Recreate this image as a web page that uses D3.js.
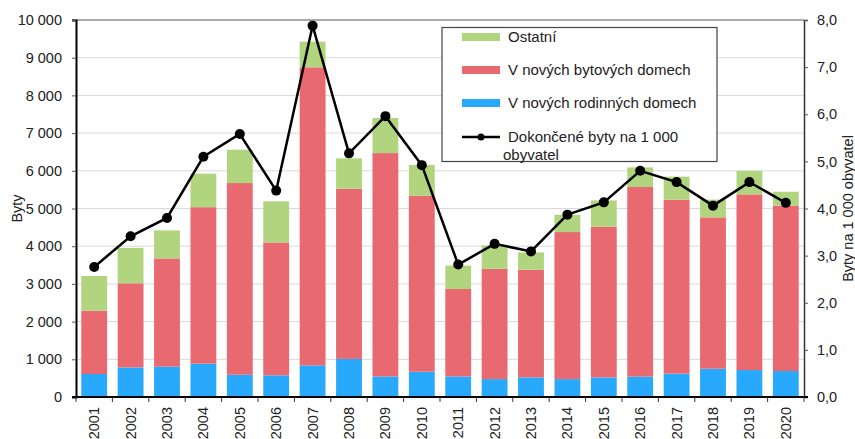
<!DOCTYPE html>
<html>
<head>
<meta charset="utf-8">
<script src="https://cdn.jsdelivr.net/npm/d3@7"></script>
<style>
  body { margin: 0; background: #fff; }
  svg { font-family: "Liberation Sans", Arial, sans-serif; }
</style>
</head>
<body>
<div id="container"></div>
<script>
const width = 855;
const height = 439;

const years = ['2001', '2002', '2003', '2004', '2005', '2006', '2007', '2008', '2009', '2010',
    '2011', '2012', '2013', '2014', '2015', '2016', '2017', '2018', '2019', '2020'];
// V nových rodinných domech
const family = [610, 785, 805, 885, 590, 575, 840, 1010, 545, 670, 545, 475, 520, 475, 520, 540, 620, 750, 715, 690];
// V nových bytových domech
const apartment = [1680, 2230, 2870, 4150, 5085, 3525, 7905, 4515, 5925, 4670, 2320, 2925, 2855, 3900, 3995, 5030, 4615, 4015, 4660, 4385];
// Ostatní
const other = [920, 940, 745, 890, 885, 1090, 680, 805, 930, 815, 620, 620, 460, 460, 700, 520, 610, 470, 620, 370];
// Dokončené byty na 1 000 obyvatel
const perThousand = [2.76, 3.41, 3.80, 5.10, 5.58, 4.38, 7.88, 5.17, 5.96, 4.92, 2.81, 3.25, 3.09, 3.87, 4.13, 4.80, 4.56, 4.06, 4.56, 4.12];

const leftTicks = [0, 1000, 2000, 3000, 4000, 5000, 6000, 7000, 8000, 9000, 10000];
const rightTicks = [0, 1, 2, 3, 4, 5, 6, 7, 8];

const keys = ['family', 'apartment', 'other'];
const colors = { family: '#29a9fb', apartment: '#e8696f', other: '#b1d57f' };

const legendItems = [
    { type: 'bar', key: 'other', label: ['Ostatní'] },
    { type: 'bar', key: 'apartment', label: ['V nových bytových domech'] },
    { type: 'bar', key: 'family', label: ['V nových rodinných domech'] },
    { type: 'line', label: ['Dokončené byty na 1 000', 'obyvatel'] }
];

const margin = { top: 20, right: 51, bottom: 42, left: 76 };
const x0 = margin.left, x1 = width - margin.right;
const y0 = height - margin.bottom, y1 = margin.top;
const FS = 14.5;

const rows = years.map((yr, i) => ({ year: yr, family: family[i], apartment: apartment[i], other: other[i], rate: perThousand[i] }));

const x = d3.scaleBand().domain(years).range([x0, x1]).paddingInner(0.29).paddingOuter(0.145);
const xBand = d3.scaleBand().domain(years).range([x0, x1]);
const y = d3.scaleLinear().domain([0, 10000]).range([y0, y1]);
const yR = d3.scaleLinear().domain([0, 8]).range([y0, y1]);

const fmtL = d => d3.format(',')(d).replace(/,/g, '\u00a0');
const fmtR = d => d3.format('.1f')(d).replace('.', ',');

const svg = d3.select('#container').append('svg')
    .attr('width', width)
    .attr('height', height);

// gridlines
svg.append('g')
    .selectAll('line')
    .data(leftTicks.slice(1, -1))
    .join('line')
    .attr('x1', x0).attr('x2', x1)
    .attr('y1', d => y(d)).attr('y2', d => y(d))
    .attr('stroke', '#d9d9d9')
    .attr('stroke-width', 1);

// top border
svg.append('line')
    .attr('x1', x0 - 4).attr('x2', x1)
    .attr('y1', y1).attr('y2', y1)
    .attr('stroke', '#555').attr('stroke-width', 1.2);

// stacked bars
const stack = d3.stack().keys(keys)(rows);
svg.append('g')
    .selectAll('g')
    .data(stack)
    .join('g')
    .attr('fill', d => colors[d.key])
    .selectAll('rect')
    .data(d => d)
    .join('rect')
    .attr('x', d => x(d.data.year))
    .attr('width', x.bandwidth())
    .attr('y', d => y(d[1]))
    .attr('height', d => y(d[0]) - y(d[1]));

// left axis
const gl = svg.append('g')
    .attr('transform', `translate(${x0},0)`)
    .call(d3.axisLeft(y).tickValues(leftTicks).tickFormat(fmtL).tickSize(4).tickPadding(10));
gl.select('.domain').attr('stroke', '#000').attr('stroke-width', 2);
gl.selectAll('.tick line').attr('stroke', '#555');
gl.selectAll('.tick text').attr('font-size', FS).attr('fill', '#222');

// right axis
const gr = svg.append('g')
    .attr('transform', `translate(${x1},0)`)
    .call(d3.axisRight(yR).tickValues(rightTicks).tickFormat(fmtR).tickSize(4).tickPadding(9));
gr.select('.domain').attr('stroke', '#333').attr('stroke-width', 1.5);
gr.selectAll('.tick line').attr('stroke', '#555');
gr.selectAll('.tick text').attr('font-size', FS).attr('fill', '#222');

// bottom axis
const gb = svg.append('g').attr('transform', `translate(0,${y0})`);
gb.append('line')
    .attr('x1', x0 - 4).attr('x2', x1 + 4)
    .attr('stroke', '#000').attr('stroke-width', 2);
gb.selectAll('.tk')
    .data(years.concat(['end']))
    .join('line')
    .attr('class', 'tk')
    .attr('x1', d => d === 'end' ? x1 : xBand(d))
    .attr('x2', d => d === 'end' ? x1 : xBand(d))
    .attr('y1', 0).attr('y2', 5)
    .attr('stroke', '#333');
gb.selectAll('text')
    .data(years)
    .join('text')
    .attr('transform', d => `translate(${xBand(d) + xBand.bandwidth() / 2 + 5},10) rotate(-90)`)
    .attr('text-anchor', 'end')
    .attr('font-size', FS)
    .attr('fill', '#222')
    .text(d => d);

// line
const line = d3.line()
    .x(d => xBand(d.year) + xBand.bandwidth() / 2)
    .y(d => yR(d.rate));
svg.append('path')
    .datum(rows)
    .attr('fill', 'none')
    .attr('stroke', '#000')
    .attr('stroke-width', 2.5)
    .attr('d', line);
svg.append('g')
    .selectAll('circle')
    .data(rows)
    .join('circle')
    .attr('cx', d => xBand(d.year) + xBand.bandwidth() / 2)
    .attr('cy', d => yR(d.rate))
    .attr('r', 5)
    .attr('fill', '#000');

// axis titles
svg.append('text')
    .attr('transform', `translate(22,${(y0 + y1) / 2}) rotate(-90)`)
    .attr('text-anchor', 'middle')
    .attr('font-size', FS)
    .attr('fill', '#222')
    .text('Byty');
svg.append('text')
    .attr('transform', `translate(853,${(y0 + y1) / 2}) rotate(-90)`)
    .attr('text-anchor', 'middle')
    .attr('font-size', FS)
    .attr('fill', '#222')
    .text('Byty na 1 000 obyvatel');

// legend
const lg = svg.append('g');
lg.append('rect')
    .attr('x', 442).attr('y', 27.5)
    .attr('width', 275).attr('height', 134)
    .attr('fill', '#fff')
    .attr('stroke', '#444')
    .attr('stroke-width', 1.2);
const rowY = [37, 70, 103, 137];
legendItems.forEach((it, i) => {
    const g = lg.append('g').attr('transform', `translate(0,${rowY[i]})`);
    if (it.type === 'bar') {
        g.append('rect')
            .attr('x', 462).attr('y', -4)
            .attr('width', 38).attr('height', 8)
            .attr('fill', colors[it.key]);
    } else {
        g.append('line')
            .attr('x1', 462).attr('x2', 500)
            .attr('stroke', '#000').attr('stroke-width', 2.5);
        g.append('circle').attr('cx', 481).attr('r', 3.5).attr('fill', '#000');
    }
    g.append('text')
        .attr('x', 508).attr('y', 5)
        .attr('font-size', 15)
        .attr('fill', '#222')
        .text(it.label[0]);
    if (it.label[1]) {
        g.append('text')
            .attr('x', 503).attr('y', 23)
            .attr('font-size', 15)
            .attr('fill', '#222')
            .text(it.label[1]);
    }
});
</script>
</body>
</html>
